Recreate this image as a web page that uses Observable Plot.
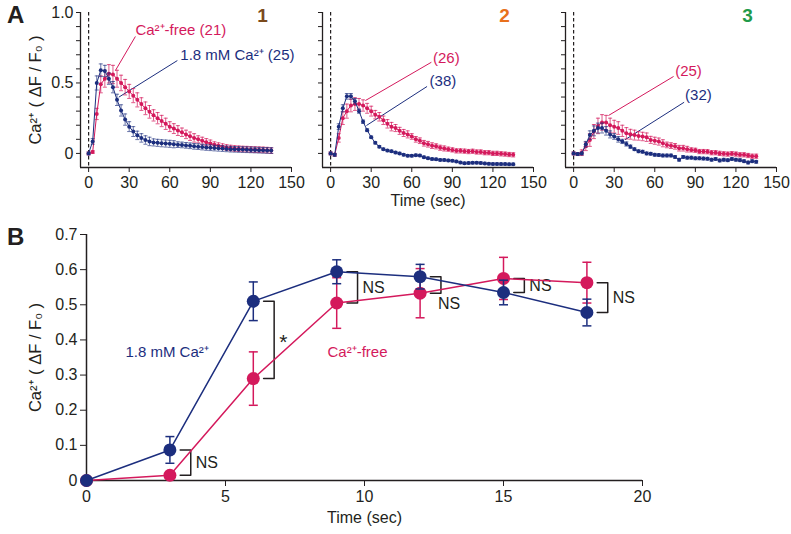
<!DOCTYPE html>
<html><head><meta charset="utf-8">
<script src="https://cdn.jsdelivr.net/npm/d3@7"></script>
<script src="https://cdn.jsdelivr.net/npm/@observablehq/plot@0.6"></script>
<style>
body{margin:0;background:#fff;}
#wrap{position:relative;width:791px;height:534px;font-family:"Liberation Sans",Arial,Helvetica,sans-serif;overflow:hidden;}
#wrap svg{position:absolute;}
.plabel{position:absolute;font-weight:bold;font-size:24px;color:#231f20;}
</style></head><body>
<div id="wrap"><div class="plabel" style="left:7px;top:1px">A</div><div class="plabel" style="left:7px;top:223px">B</div></div>
<script>
// ---------- Panel A data (time in sec, ΔF/F0 mean and SEM) ----------
const timeA = [0,3,6,9,12,15,18,21,24,27,30,33,36,39,42,45,48,51,54,57,60,63,66,69,72,75,78,81,84,87,90,93,96,99,102,105,108,111,114,117,120,123,126,129,132,135];
const xTicksA = [0,30,60,90,120,150];
const yTicksA = [0,0.1,0.2,0.3,0.4,0.5,0.6,0.7,0.8,0.9,1.0];
const yLabelsA = {"0":"0","0.5":"0.5","1":"1.0"};

const a1Blue = [0,0.085,0.50,0.59,0.585,0.53,0.47,0.38,0.305,0.24,
 0.19,0.155,0.128,0.11,0.095,0.085,0.078,0.075,0.072,0.07,
 0.068,0.065,0.062,0.06,0.057,0.054,0.05,0.048,0.045,0.042,
 0.04,0.038,0.036,0.034,0.032,0.03,0.029,0.028,0.027,0.026,
 0.025,0.024,0.023,0.022,0.021,0.02];
const a1BlueErr = [0.01,0.02,0.05,0.045,0.04,0.04,0.04,0.04,0.04,0.04,
 0.035,0.035,0.03,0.03,0.03,0.03,0.025,0.025,0.025,0.025,
 0.025,0.025,0.02,0.02,0.02,0.02,0.02,0.02,0.02,0.02,
 0.02,0.02,0.02,0.02,0.02,0.02,0.02,0.02,0.02,0.02,
 0.02,0.02,0.02,0.02,0.02,0.02];
const a1Pink = [0,0.01,0.28,0.49,0.53,0.565,0.56,0.53,0.50,0.47,
 0.44,0.41,0.38,0.35,0.32,0.295,0.27,0.25,0.23,0.21,
 0.19,0.176,0.162,0.15,0.135,0.122,0.11,0.10,0.09,0.08,
 0.07,0.062,0.055,0.048,0.042,0.038,0.035,0.033,0.031,0.03,
 0.028,0.027,0.026,0.025,0.023,0.02];
const a1PinkErr = [0.01,0.01,0.04,0.06,0.06,0.065,0.065,0.06,0.055,0.055,
 0.05,0.05,0.05,0.045,0.045,0.045,0.04,0.04,0.04,0.04,
 0.035,0.035,0.035,0.03,0.03,0.03,0.03,0.025,0.025,0.025,
 0.025,0.02,0.02,0.02,0.02,0.02,0.02,0.02,0.02,0.02,
 0.02,0.02,0.02,0.02,0.02,0.02];

const a2Blue = [0,-0.01,0.19,0.32,0.405,0.405,0.37,0.30,0.225,0.165,
 0.115,0.075,0.048,0.03,0.02,0.015,0.006,0.0,-0.01,-0.016,
 -0.017,-0.013,-0.015,-0.027,-0.034,-0.04,-0.042,-0.046,-0.047,-0.05,
 -0.052,-0.057,-0.065,-0.07,-0.068,-0.067,-0.066,-0.068,-0.071,-0.074,
 -0.075,-0.075,-0.076,-0.076,-0.077,-0.077];
const a2BlueErr = [0.01,0.01,0.02,0.025,0.02,0.02,0.02,0.015,0.012,0.01,
 0.008,0.008,0.008,0.008,0.008,0.008,0.008,0.008,0.008,0.008,
 0.008,0.008,0.008,0.008,0.008,0.008,0.008,0.008,0.008,0.008,
 0.008,0.008,0.008,0.008,0.008,0.008,0.008,0.008,0.008,0.008,
 0.008,0.008,0.008,0.008,0.008,0.008];
const a2Pink = [0,-0.01,0.11,0.25,0.30,0.34,0.35,0.35,0.34,0.32,
 0.30,0.275,0.26,0.235,0.21,0.19,0.18,0.16,0.145,0.135,
 0.12,0.10,0.09,0.072,0.065,0.055,0.05,0.04,0.035,0.03,
 0.025,0.018,0.018,0.016,0.013,0.015,0.01,0.01,0.005,0.005,
 0.0,0.0,-0.003,-0.005,-0.008,-0.01];
const a2PinkErr = [0.01,0.01,0.03,0.045,0.05,0.045,0.045,0.04,0.04,0.035,
 0.035,0.03,0.03,0.03,0.03,0.03,0.025,0.025,0.025,0.025,
 0.02,0.02,0.02,0.02,0.02,0.02,0.018,0.018,0.018,0.015,
 0.015,0.015,0.015,0.015,0.015,0.015,0.015,0.015,0.015,0.015,
 0.015,0.015,0.015,0.015,0.015,0.015];

const a3Blue = [0,-0.005,0,0.065,0.13,0.16,0.18,0.18,0.16,0.135,
 0.12,0.10,0.085,0.067,0.048,0.03,0.015,0.012,0.0,-0.003,
 -0.01,-0.012,-0.015,-0.015,-0.015,-0.025,-0.045,-0.025,-0.03,-0.03,
 -0.035,-0.035,-0.037,-0.038,-0.045,-0.04,-0.05,-0.045,-0.048,-0.04,
 -0.045,-0.048,-0.055,-0.065,-0.055,-0.06];
const a3BlueErr = [0.01,0.01,0.01,0.02,0.03,0.035,0.035,0.035,0.03,0.025,
 0.02,0.02,0.015,0.015,0.012,0.01,0.01,0.01,0.01,0.01,
 0.01,0.01,0.01,0.01,0.01,0.01,0.01,0.01,0.01,0.01,
 0.01,0.01,0.01,0.01,0.01,0.01,0.01,0.01,0.01,0.01,
 0.01,0.01,0.01,0.01,0.01,0.01];
const a3Pink = [0,-0.005,0.005,0.05,0.095,0.155,0.195,0.22,0.22,0.20,
 0.19,0.18,0.16,0.143,0.136,0.13,0.124,0.12,0.115,0.096,
 0.09,0.084,0.072,0.06,0.055,0.05,0.037,0.037,0.03,0.025,
 0.022,0.013,0.013,0.012,0.005,0.005,0.0,-0.003,-0.005,-0.002,
 -0.005,-0.01,-0.01,-0.015,-0.02,-0.02];
const a3PinkErr = [0.01,0.01,0.02,0.03,0.045,0.05,0.055,0.055,0.05,0.05,
 0.045,0.045,0.04,0.04,0.035,0.035,0.03,0.03,0.03,0.025,
 0.025,0.025,0.025,0.02,0.02,0.02,0.02,0.02,0.02,0.015,
 0.015,0.015,0.015,0.015,0.015,0.015,0.015,0.015,0.015,0.015,
 0.015,0.015,0.015,0.015,0.015,0.015];

const panelNames = ["1","2","3"];
const pinkLabelsA = ["Ca\u00B2\u207A-free (21)","(26)","(25)"];
const blueLabelsA = ["1.8 mM Ca\u00B2\u207A (25)","(38)","(32)"];

// ---------- Panel B data ----------
const timeB = [0,3,6,9,12,15,18];
const xTicksB = [0,5,10,15,20];
const yTicksB = [0,0.1,0.2,0.3,0.4,0.5,0.6,0.7];
const bBlue = [0,0.087,0.51,0.594,0.58,0.535,0.478];
const bBlueErr = [0,0.038,0.055,0.034,0.035,0.035,0.038];
const bPink = [0,0.015,0.29,0.505,0.533,0.575,0.563];
const bPinkErr = [0,0.005,0.076,0.072,0.07,0.06,0.058];
const sigLabels = ["","NS","*","NS","NS","NS","NS"];
const seriesLabelsB = ["1.8 mM Ca\u00B2\u207A","Ca\u00B2\u207A-free"];
const yTitle = "Ca\u00B2\u207A ( \u0394F / F\u2080 )";
const xTitle = "Time (sec)";

// ---------- styling / layout ----------
const PINK = "#d4195c", NAVY = "#1c2e7e", INK = "#231f20";
const numColors = ["#7b4a1c","#e8701c","#1f9a4a"];
const FONT = "'Liberation Sans', Arial, Helvetica, sans-serif";
const wrap = document.getElementById("wrap");
const capSym = {draw(ctx, size){ const r = Math.sqrt(size/Math.PI); ctx.moveTo(-r,0); ctx.lineTo(r,0); }};

// label placement (data units) for each A panel
const notesA = [
 {pink:{tx:34.6,ty:0.872,x1:34.6,y1:0.83,x2:19.8,y2:0.588}, blue:{tx:67.8,ty:0.695,x1:65.6,y1:0.659,x2:22.3,y2:0.399}},
 {pink:{tx:75.7,ty:0.678,x1:74.5,y1:0.647,x2:25.7,y2:0.375}, blue:{tx:73.2,ty:0.51,x1:71.3,y1:0.475,x2:26.5,y2:0.198}},
 {pink:{tx:75.1,ty:0.583,x1:73.9,y1:0.546,x2:25.8,y2:0.269}, blue:{tx:82.4,ty:0.411,x1:81.7,y1:0.363,x2:38,y2:0.097}}
];
const seriesA = [
 [a1Blue,a1BlueErr,a1Pink,a1PinkErr],
 [a2Blue,a2BlueErr,a2Pink,a2PinkErr],
 [a3Blue,a3BlueErr,a3Pink,a3PinkErr]
];
const lefts = [0,242,485];

function errMarks(d, c, capR, sw, op) {
  return [
    Plot.ruleX(d, {x:"t", y1:r=>r.v-r.e, y2:r=>r.v+r.e, stroke:c, strokeWidth:sw, strokeOpacity:op}),
    Plot.dot(d, {x:"t", y:r=>r.v+r.e, symbol:capSym, r:capR, stroke:c, strokeWidth:sw, strokeOpacity:op, fill:"none"}),
    Plot.dot(d, {x:"t", y:r=>r.v-r.e, symbol:capSym, r:capR, stroke:c, strokeWidth:sw, strokeOpacity:op, fill:"none"})
  ];
}

seriesA.forEach(([bl, ble, pk, pke], k) => {
  const b = timeA.map((t,i)=>({t, v:bl[i], e:ble[i]}));
  const p = timeA.map((t,i)=>({t, v:pk[i], e:pke[i]}));
  const n = notesA[k];
  const notes = [
    {...n.pink, text:pinkLabelsA[k], c:PINK},
    {...n.blue, text:blueLabelsA[k], c:NAVY}
  ];
  const svg = Plot.plot({
    width:311, height:215, marginLeft:80, marginRight:20, marginTop:12, marginBottom:48,
    x:{domain:[-6,150]}, y:{domain:[-0.1,1.0]},
    style:{background:"transparent", overflow:"visible", fontFamily:FONT, fontSize:"16px", color:INK},
    marks:[
      Plot.ruleX([-6], {stroke:INK, strokeWidth:1.3}),
      Plot.ruleY([-0.1], {stroke:INK, strokeWidth:1.3}),
      Plot.axisY(yTicksA, {anchor:"left", tickSize:4, tickPadding:3, stroke:INK, fill:INK, fontSize:16,
        tickFormat: k===0 ? (d=>yLabelsA[String(d)] ?? "") : (()=>""), label:null}),
      Plot.axisX(xTicksA, {anchor:"bottom", tickSize:5, tickPadding:4, stroke:INK, fill:INK, fontSize:16, label:null}),
      k===0 ? Plot.text([yTitle], {text:d=>d, frameAnchor:"left", textAnchor:"middle", dx:-45, rotate:-90, fontSize:16.5, fill:INK}) : null,
      k===1 ? Plot.text([xTitle], {text:d=>d, frameAnchor:"bottom", textAnchor:"middle", dy:38, fontSize:16, fill:INK}) : null,
      Plot.ruleX([0], {stroke:INK, strokeWidth:1.2, strokeDasharray:"3.5,2.5"}),
      Plot.link(notes, {x1:"x1", y1:"y1", x2:"x2", y2:"y2", stroke:"c", strokeWidth:1}),
      Plot.text(notes, {x:"tx", y:"ty", text:"text", fill:"c", textAnchor:"start", fontSize:15}),
      ...errMarks(p, PINK, 2, 0.9, 0.8),
      Plot.line(p, {x:"t", y:"v", stroke:PINK, strokeWidth:1}),
      Plot.dot(p, {x:"t", y:"v", r:2, fill:PINK}),
      ...errMarks(b, NAVY, 2, 0.9, 0.75),
      Plot.line(b, {x:"t", y:"v", stroke:NAVY, strokeWidth:1}),
      Plot.dot(b, {x:"t", y:"v", r:2, fill:NAVY}),
      Plot.text([panelNames[k]], {x:128.5, y:0.975, text:d=>d, fill:numColors[k], fontSize:19, fontWeight:"bold"})
    ]
  });
  svg.style.left = lefts[k]+"px";
  svg.style.top = "0px";
  wrap.append(svg);
});

// ---------- Panel B ----------
const bB = timeB.map((t,i)=>({t, v:bBlue[i], e:bBlueErr[i]}));
const bP = timeB.map((t,i)=>({t, v:bPink[i], e:bPinkErr[i]}));
const brackets = [], sig = [];
timeB.forEach((t,i)=>{
  if (!sigLabels[i]) return;
  const top = Math.max(bBlue[i], bPink[i]), bot = Math.min(bBlue[i], bPink[i]);
  [[t+0.37,top],[t+0.75,top],[t+0.75,bot],[t+0.37,bot]].forEach(([x,y])=>brackets.push({id:i,x,y}));
  sig.push({x:t+0.75, y:(top+bot)/2, text:sigLabels[i], below: i===4});
});
const seriesNotesB = [
  {x:1.4, y:0.364, text:seriesLabelsB[0], c:NAVY},
  {x:8.67, y:0.364, text:seriesLabelsB[1], c:PINK}
];
const svgB = Plot.plot({
  width:791, height:334, marginLeft:86, marginRight:149, marginTop:34, marginBottom:54,
  x:{domain:[0,20]}, y:{domain:[0,0.7]},
  style:{background:"transparent", overflow:"visible", fontFamily:FONT, fontSize:"16px", color:INK},
  marks:[
    Plot.ruleX([0], {stroke:INK, strokeWidth:1.5}),
    Plot.ruleY([0], {stroke:INK, strokeWidth:1.5}),
    Plot.axisY(yTicksB, {anchor:"left", tickSize:6, tickPadding:3, stroke:INK, fill:INK, fontSize:16,
      tickFormat:d=>d===0?"0":d.toFixed(1), label:null}),
    Plot.axisX(xTicksB, {anchor:"bottom", tickSize:6, tickPadding:4, stroke:INK, fill:INK, fontSize:16, label:null}),
    Plot.text([yTitle], {text:d=>d, frameAnchor:"left", textAnchor:"middle", dx:-51, rotate:-90, fontSize:16.5, fill:INK}),
    Plot.text([xTitle], {text:d=>d, frameAnchor:"bottom", textAnchor:"middle", dy:42, fontSize:16, fill:INK}),
    Plot.line(brackets, {x:"x", y:"y", z:"id", stroke:INK, strokeWidth:1.5}),
    Plot.text(sig.filter(d=>!d.below && d.text!=="*"), {x:"x", y:"y", text:"text", dx:5, textAnchor:"start", fill:INK, fontSize:16}),
    Plot.text(sig.filter(d=>d.text==="*"), {x:"x", y:"y", text:"text", dx:5, dy:2, textAnchor:"start", fill:INK, fontSize:21}),
    Plot.text(sig.filter(d=>d.below), {x:"x", y:"y", text:"text", dx:-3, dy:19, textAnchor:"start", fill:INK, fontSize:16}),
    Plot.text(seriesNotesB, {x:"x", y:"y", text:"text", fill:"c", textAnchor:"start", fontSize:15}),
    ...errMarks(bP, PINK, 4.5, 1.5, 1),
    Plot.line(bP, {x:"t", y:"v", stroke:PINK, strokeWidth:1.5}),
    Plot.dot(bP, {x:"t", y:"v", r:6.5, fill:PINK}),
    ...errMarks(bB, NAVY, 4.5, 1.5, 1),
    Plot.line(bB, {x:"t", y:"v", stroke:NAVY, strokeWidth:1.5}),
    Plot.dot(bB, {x:"t", y:"v", r:6.5, fill:NAVY})
  ]
});
svgB.style.left = "0px";
svgB.style.top = "200px";
wrap.append(svgB);
</script>
</body></html>
